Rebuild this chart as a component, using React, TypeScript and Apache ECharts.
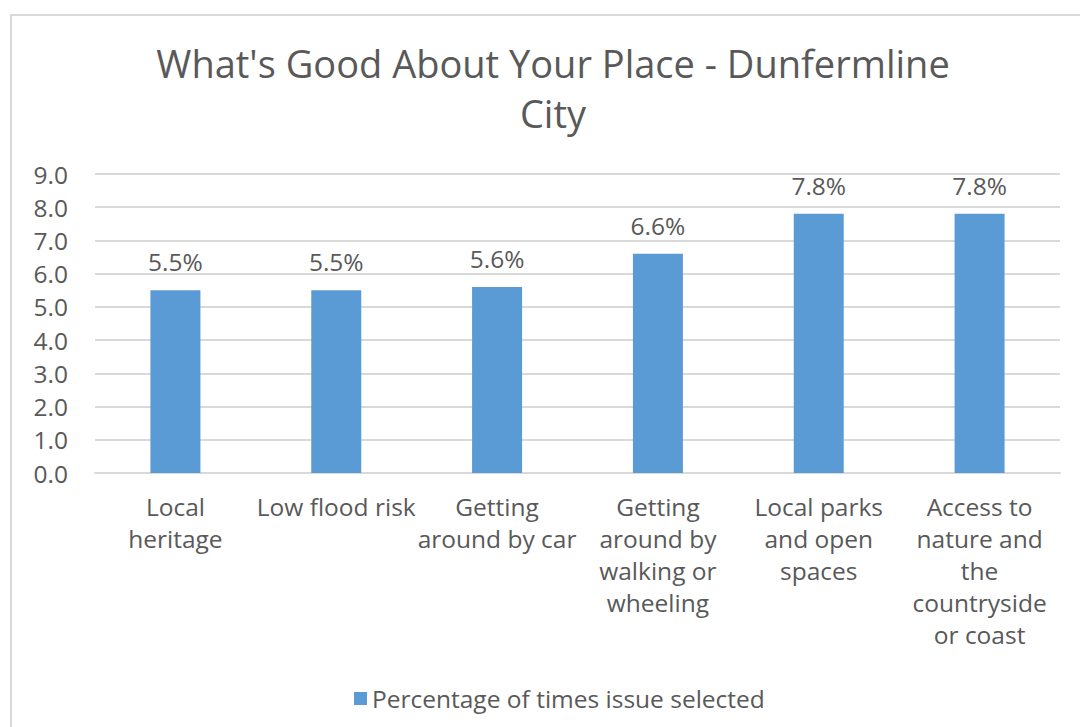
import React, { useEffect, useRef } from "react";
import * as echarts from "echarts";

const categories = [
  "Local\nheritage",
  "Low flood risk",
  "Getting\naround by car",
  "Getting\naround by\nwalking or\nwheeling",
  "Local parks\nand open\nspaces",
  "Access to\nnature and\nthe\ncountryside\nor coast",
];
const values = [5.5, 5.5, 5.6, 6.6, 7.8, 7.8];
const seriesName = "Percentage of times issue selected";
const titleLines = ["What's Good About Your Place - Dunfermline", "City"];

const FONT = "Open Sans";
const TEXT = "#595959";
const FS = 24.5;

export default function App() {
  const ref = useRef<HTMLDivElement>(null);
  useEffect(() => {
    document.body.style.margin = "0";
    const chart = echarts.init(ref.current!, undefined, { renderer: "svg" });
    chart.setOption({
      animation: false,
      backgroundColor: "#fff",
      textStyle: { fontFamily: FONT },
      graphic: [
        {
          type: "rect",
          shape: { x: 11, y: 15, width: 1200, height: 900 },
          style: { fill: "none", stroke: "#D9D9D9", lineWidth: 2 },
          silent: true,
        },
        {
          type: "text",
          x: 553,
          y: 63,
          style: {
            text: titleLines[0],
            fontFamily: FONT,
            fontSize: 38,
            fill: TEXT,
            textAlign: "center",
            textVerticalAlign: "middle",
          },
        },
        {
          type: "text",
          x: 553,
          y: 113,
          style: {
            text: titleLines[1],
            fontFamily: FONT,
            fontSize: 38,
            fill: TEXT,
            textAlign: "center",
            textVerticalAlign: "middle",
          },
        },
      ],
      legend: {
        left: 349,
        top: 681,
        itemWidth: 13,
        itemHeight: 13,
        itemGap: 10,
        icon: "rect",
        textStyle: { fontFamily: FONT, fontSize: FS, color: TEXT, lineHeight: 25, padding: [0, 0, 0, 0] },
        data: [seriesName],
      },
      grid: { left: 95, right: 20, top: 174, bottom: 254, containLabel: false },
      xAxis: {
        type: "category",
        data: categories,
        axisLine: { lineStyle: { color: "#D9D9D9", width: 2 } },
        axisTick: { show: false },
        axisLabel: {
          interval: 0,
          margin: 17,
          fontFamily: FONT,
          fontSize: FS,
          lineHeight: 32,
          color: TEXT,
          align: "center",
        },
      },
      yAxis: {
        type: "value",
        min: 0,
        max: 9,
        interval: 1,
        axisLine: { show: false },
        axisTick: { show: false },
        splitLine: { lineStyle: { color: "#D9D9D9", width: 2 } },
        axisLabel: {
          margin: 27,
          fontFamily: FONT,
          fontSize: FS,
          color: TEXT,
          formatter: (v: number) => v.toFixed(1),
        },
      },
      series: [
        {
          name: seriesName,
          type: "bar",
          data: values,
          barWidth: 50,
          itemStyle: { color: "#5B9BD5" },
          label: {
            show: true,
            position: "top",
            distance: 16,
            fontFamily: FONT,
            fontSize: FS,
            color: TEXT,
            formatter: (p: any) => p.value.toFixed(1) + "%",
          },
        },
      ],
    });
    return () => chart.dispose();
  }, []);
  return <div ref={ref} style={{ width: 1080, height: 727 }} />;
}
